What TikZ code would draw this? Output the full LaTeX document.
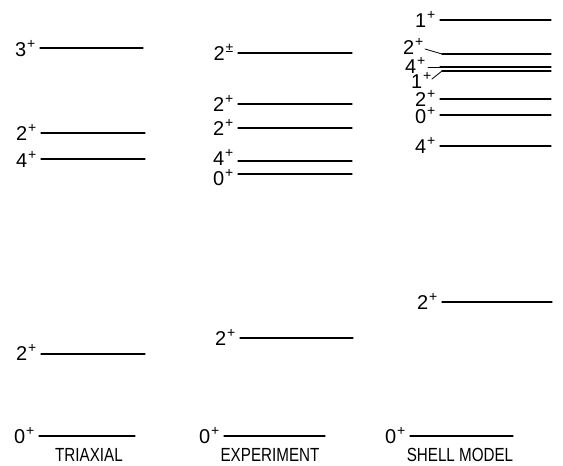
\documentclass[tikz,border=0pt]{standalone}
\usepackage{fontspec}
\setmainfont{Liberation Sans}
\newcommand\spinsup[1]{\textsuperscript{\kern0.8pt#1}}
\begin{document}
\begin{tikzpicture}[x=1pt,y=-1pt,
  lvl/.style={line width=1.1pt,line cap=round},
  lab/.style={font=\fontsize{20}{22}\selectfont,anchor=base east,inner sep=0pt},
  title/.style={font=\fontsize{19}{22}\selectfont,xscale=0.8,anchor=center,inner sep=0pt}]
\useasboundingbox (0,0) rectangle (563,466);

% level: x start, x end, y, label, label centre y, name
\newcommand\level[6]{%
  \draw[lvl] (#1,#3) -- (#2,#3);
  \node[lab] (#6) at (#1-4,#5+7) {#4};}

% ---- triaxial rotor ----
\level{40}{143}{48}{3\spinsup{+}}{49}{t3}
\level{41}{145}{133}{2\spinsup{+}}{133}{t2b}
\level{41}{145}{159}{4\spinsup{+}}{160}{t4}
\level{41}{145}{354}{2\spinsup{+}}{353}{t2a}
\level{39}{135}{436}{0\spinsup{+}}{436}{t0}
\node[title] (tri) at (89,455) {TRIAXIAL};

% ---- experiment ----
\level{238}{352}{53}{2\spinsup{±}}{53}{e2d}
\level{238}{352}{104}{2\spinsup{+}}{104}{e2c}
\level{238}{352}{128}{2\spinsup{+}}{128}{e2b}
\level{238}{352}{161}{4\spinsup{+}}{158}{e4}
\level{238}{352}{174}{0\spinsup{+}}{178}{e0b}
\level{240}{353}{338}{2\spinsup{+}}{338}{e2a}
\level{224}{325}{436}{0\spinsup{+}}{436}{e0a}
\node[title] (exp) at (270,455) {EXPERIMENT};

% ---- shell model ----
\level{440}{551}{20}{1\spinsup{+}}{20}{s1b}
\level{440}{551}{99}{2\spinsup{+}}{99.5}{s2b}
\level{440}{551}{115}{0\spinsup{+}}{116}{s0b}
\level{440}{551}{146}{4\spinsup{+}}{146}{s4}
\level{442}{552}{302}{2\spinsup{+}}{302}{s2a}
\level{410}{513}{436}{0\spinsup{+}}{436}{s0a}
% crowded group with leader lines
\node[lab] (s2c) at (424,47+7) {2\spinsup{+}};
\draw[lvl,line width=0.8pt] (425,49) -- (442,54);
\draw[lvl] (442,54) -- (551,54);
\node[lab] (s4b) at (426,66+7) {4\spinsup{+}};
\draw[lvl,line width=0.8pt] (428,67) -- (440,67);
\draw[lvl] (440,67) -- (551,67);
\node[lab] (s1a) at (432,81.5+7) {1\spinsup{+}};
\draw[lvl,line width=0.8pt] (432,79) -- (442,71);
\draw[lvl] (442,71) -- (551,71);
\node[title] (shm) at (460,455) {SHELL MODEL};
\end{tikzpicture}
\end{document}
